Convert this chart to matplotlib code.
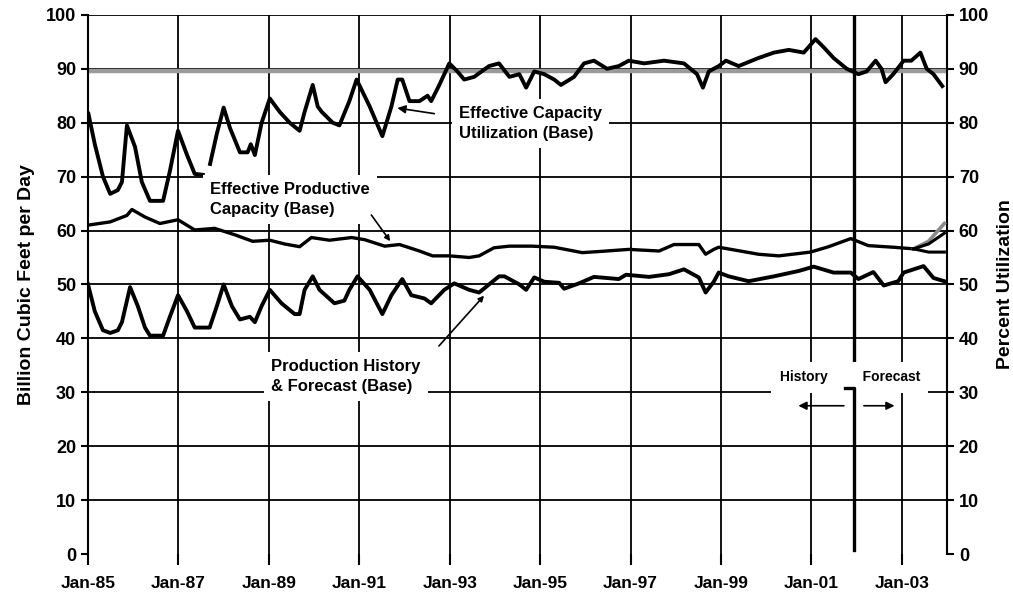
import numpy as np
import matplotlib.pyplot as plt

plt.rcParams['font.family'] = ['Liberation Sans', 'DejaVu Sans']

# Effective capacity utilization (percent), nan = break in the line
util_x = [1985.00, 1985.15, 1985.33, 1985.49, 1985.66, 1985.75, 1985.86, 1986.04, 1986.19, 1986.37,
          1986.66, 1986.81, 1986.99, 1987.19, 1987.36, 1987.58, 1987.63, 1987.69, 1987.85, 1988.00,
          1988.14, 1988.36, 1988.53, 1988.60, 1988.69, 1988.84, 1989.02, 1989.24, 1989.46, 1989.68,
          1989.79, 1989.97, 1990.08, 1990.17, 1990.41, 1990.56, 1990.78, 1990.94, 1991.23, 1991.51,
          1991.71, 1991.85, 1991.95, 1992.11, 1992.33, 1992.51, 1992.59, 1992.77, 1992.99, 1993.17,
          1993.32, 1993.54, 1993.87, 1994.09, 1994.32, 1994.54, 1994.69, 1994.87, 1995.09, 1995.31,
          1995.46, 1995.75, 1995.97, 1996.19, 1996.48, 1996.74, 1996.96, 1997.30, 1997.74, 1998.18,
          1998.47, 1998.60, 1998.73, 1998.95, 1999.11, 1999.39, 1999.83, 2000.17, 2000.50, 2000.83,
          2001.09, 2001.27, 2001.49, 2001.78, 2002.04, 2002.22, 2002.42, 2002.55, 2002.64, 2002.81,
          2003.04, 2003.21, 2003.41, 2003.55, 2003.70, 2003.92]
util_y = [82, 76, 70, 66.8, 67.5, 69, 79.5, 75.5, 69, 65.5,
          65.5, 71, 78.5, 74, 70.5, 70.3, np.nan, 72, 78, 82.8,
          79, 74.5, 74.5, 76, 74, 80, 84.5, 82, 80, 78.5,
          82, 87, 83, 82, 80, 79.5, 84, 88, 83, 77.5,
          83, 88, 88, 84, 84, 85, 84, 87, 91, 89.5,
          88, 88.5, 90.5, 91, 88.5, 89, 86.5, 89.5, 89, 88,
          87, 88.5, 91, 91.5, 90, 90.5, 91.5, 91, 91.5, 91,
          89, 86.5, 89.5, 90.5, 91.5, 90.5, 92, 93, 93.5, 93,
          95.5, 94, 92, 90, 89, 89.5, 91.5, 90, 87.5, 89,
          91.5, 91.5, 93, 90, 89, 86.5]

# Effective productive capacity (Bcf/d)
cap_x = [1985.00, 1985.49, 1985.86, 1985.97, 1986.26, 1986.59, 1986.99, 1987.36, 1987.80, 1988.25,
         1988.64, 1989.02, 1989.35, 1989.68, 1989.94, 1990.34, 1990.83, 1991.12, 1991.56, 1991.89,
         1992.33, 1992.62, 1992.99, 1993.43, 1993.65, 1993.98, 1994.32, 1994.82, 1995.31, 1995.93,
         1996.30, 1996.96, 1997.63, 1997.96, 1998.51, 1998.66, 1998.84, 1998.95, 1999.83, 2000.28,
         2000.98, 2001.38, 2001.87, 2002.26, 2002.81, 2003.26]
cap_y = [61, 61.6, 62.8, 63.9, 62.5, 61.3, 62, 60.1, 60.4, 59.2,
         58, 58.2, 57.5, 57, 58.7, 58.2, 58.7, 58.3, 57.1, 57.4,
         56.2, 55.3, 55.3, 55, 55.3, 56.8, 57.1, 57.1, 56.9, 55.9,
         56.1, 56.5, 56.2, 57.4, 57.4, 55.6, 56.5, 56.9, 55.6, 55.3,
         56, 57, 58.5, 57.2, 56.9, 56.6]
# forecast branches of capacity
branch_x = [2003.26, 2003.59, 2003.94]
branch_flat = [56.6, 56.0, 56.0]
branch_mid = [56.6, 57.5, 59.5]
branch_high = [56.6, 58.0, 61.3]

# Production history & forecast (Bcf/d)
prod_x = [1985.00, 1985.15, 1985.33, 1985.49, 1985.66, 1985.75, 1985.93, 1986.10, 1986.26, 1986.37,
          1986.66, 1986.81, 1986.99, 1987.19, 1987.36, 1987.69, 1987.85, 1988.00, 1988.18, 1988.36,
          1988.58, 1988.69, 1988.84, 1989.02, 1989.28, 1989.57, 1989.68, 1989.79, 1989.97, 1990.12,
          1990.45, 1990.67, 1990.78, 1990.96, 1991.23, 1991.51, 1991.71, 1991.95, 1992.15, 1992.44,
          1992.59, 1992.88, 1993.10, 1993.43, 1993.65, 1993.87, 1994.09, 1994.21, 1994.54, 1994.69,
          1994.87, 1995.09, 1995.42, 1995.53, 1995.86, 1996.19, 1996.74, 1996.90, 1997.41, 1997.85,
          1998.18, 1998.51, 1998.66, 1998.84, 1998.95, 1999.17, 1999.61, 2000.17, 2000.72, 2001.05,
          2001.49, 2001.87, 2002.04, 2002.37, 2002.60, 2002.92, 2003.04, 2003.48, 2003.70, 2003.94]
prod_y = [50, 45, 41.5, 41, 41.5, 43, 49.5, 46, 42, 40.5,
          40.5, 44, 48, 45, 42, 42, 46, 50, 46, 43.5,
          44, 43, 46, 49, 46.5, 44.5, 44.5, 49, 51.5, 49,
          46.5, 47, 49, 51.5, 49, 44.5, 48, 51, 48, 47.4,
          46.5, 49, 50.2, 49, 48.5, 50, 51.5, 51.5, 50, 49,
          51.3, 50.5, 50.3, 49.2, 50.2, 51.4, 51, 51.8, 51.4, 51.9,
          52.8, 51.3, 48.5, 50.5, 52.2, 51.5, 50.6, 51.5, 52.5, 53.3,
          52.2, 52.2, 51, 52.3, 49.8, 50.6, 52.2, 53.4, 51.2, 50.6]

ref_level = 89.6       # thick grey reference line
split_year = 2001.95   # history / forecast divider
year_ticks = list(range(1985, 2004, 2))
year_labels = ['Jan-%02d' % (y % 100) for y in year_ticks]

fig = plt.figure(figsize=(10.13, 5.94), dpi=100)
ax = fig.add_axes([0.0869, 0.0673, 0.848, 0.9077])
ax.set_xlim(1985, 2004)
ax.set_ylim(0, 100)

# grid
for v in range(10, 101, 10):
    ax.axhline(v, color='black', lw=1.3, zorder=1)
for y in year_ticks[1:]:
    ax.axvline(y, color='black', lw=1.3, zorder=1)
ax.axhline(ref_level, color='#9a9a9a', lw=3.2, zorder=2)

# history / forecast divider
ax.plot([split_year, split_year], [36, 100], color='black', lw=2.4, zorder=3)
ax.plot([split_year - 0.2, split_year, split_year], [30.7, 30.7, 0.8], color='black', lw=2.4, zorder=6)

# series
ax.plot(util_x, util_y, color='black', lw=2.8, zorder=4, solid_capstyle='butt')
ax.plot(cap_x, cap_y, color='black', lw=2.4, zorder=4)
ax.plot(branch_x, branch_high, color='#8a8a8a', lw=2.6, zorder=4)
ax.plot(branch_x, branch_mid, color='black', lw=2.2, zorder=4)
ax.plot(branch_x, branch_flat, color='black', lw=2.2, zorder=4)
ax.plot(prod_x, prod_y, color='black', lw=2.8, zorder=4)

# annotations
box = dict(facecolor='white', edgecolor='none', pad=5)
ax.text(1993.2, 79.8, 'Effective Capacity\nUtilization (Base)', fontsize=12, fontweight='bold',
        va='center', ha='left', linespacing=1.45, bbox=box, zorder=5)
ax.annotate('', xy=(1991.78, 82.8), xytext=(1992.72, 81.6),
            arrowprops=dict(arrowstyle='-|>', color='black', lw=1.2, mutation_scale=12), zorder=6)

ax.text(1987.7, 65.8, 'Effective Productive\nCapacity (Base)', fontsize=12, fontweight='bold',
        va='center', ha='left', linespacing=1.45, bbox=box, zorder=5)
ax.annotate('', xy=(1991.72, 57.6), xytext=(1991.23, 63.3),
            arrowprops=dict(arrowstyle='-|>', color='black', lw=1.2, mutation_scale=8), zorder=6)

ax.text(1989.05, 32.9, 'Production History\n& Forecast (Base)', fontsize=12, fontweight='bold',
        va='center', ha='left', linespacing=1.45, bbox=box, zorder=5)
ax.annotate('', xy=(1993.8, 48.3), xytext=(1992.72, 38.2),
            arrowprops=dict(arrowstyle='-|>', color='black', lw=1.2, mutation_scale=8), zorder=6)

ax.text(split_year - 0.1, 32.8, 'History         Forecast', fontsize=10, fontweight='bold',
        va='center', ha='center', bbox=dict(facecolor='white', edgecolor='none', pad=6), zorder=5)
ax.annotate('', xy=(2000.65, 27.5), xytext=(2001.78, 27.5),
            arrowprops=dict(arrowstyle='-|>', color='black', lw=1.2, mutation_scale=12), zorder=6)
ax.annotate('', xy=(2002.9, 27.5), xytext=(2002.1, 27.5),
            arrowprops=dict(arrowstyle='-|>', color='black', lw=1.2, mutation_scale=12), zorder=6)

# axes styling
for s in ['top', 'bottom']:
    ax.spines[s].set_visible(False)
for s in ['left', 'right']:
    ax.spines[s].set_linewidth(1.5)
ax.set_xticks(year_ticks)
ax.set_xticklabels(year_labels, fontsize=12.5, fontweight='bold')
ax.set_yticks(range(0, 101, 10))
ax.tick_params(axis='x', length=8, width=1.5, pad=8, direction='out')
ax.tick_params(axis='y', length=5, width=1.5, labelsize=13, direction='out')
for t in ax.get_yticklabels():
    t.set_fontweight('bold')
ax.set_ylabel('Billion Cubic Feet per Day', fontsize=14, fontweight='bold', labelpad=8)

ax2 = ax.twinx()
ax2.set_ylim(0, 100)
ax2.set_yticks(range(0, 101, 10))
ax2.tick_params(axis='y', length=5, width=1.5, labelsize=13, direction='out')
for t in ax2.get_yticklabels():
    t.set_fontweight('bold')
for s in ['top', 'bottom', 'left', 'right']:
    ax2.spines[s].set_visible(False)
ax2.set_ylabel('Percent Utilization', fontsize=14, fontweight='bold', labelpad=6)

fig.savefig('out.png', dpi=100)
